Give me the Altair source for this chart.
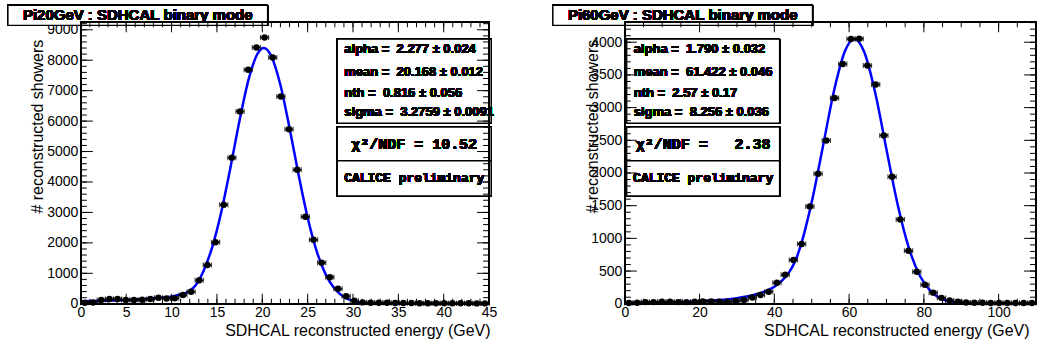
import altair as alt
import pandas as pd

# ---------------- data ----------------
left_centers = [0.45, 1.35, 2.25, 3.15, 4.05, 4.95, 5.85, 6.75, 7.65, 8.55, 9.45, 10.35, 11.25, 12.15,
                13.05, 13.95, 14.85, 15.75, 16.65, 17.55, 18.45, 19.35, 20.25, 21.15, 22.05, 22.95,
                23.85, 24.75, 25.65, 26.55, 27.45, 28.35, 29.25, 30.15, 31.05, 31.95, 32.85, 33.75,
                34.65, 35.55, 36.45, 37.35, 38.25, 39.15, 40.05, 40.95, 41.85, 42.75, 43.65, 44.55]
left_counts = [30, 40, 120, 155, 155, 120, 120, 130, 155, 200, 175, 180, 285, 395,
               770, 1270, 2020, 3250, 4800, 6316, 7690, 8420, 8750, 8090, 6810, 5730,
               4400, 2860, 2100, 1350, 870, 490, 250, 100, 45, 35, 30, 30,
               25, 25, 22, 20, 20, 18, 18, 15, 15, 15, 12, 12]
left_half_bin = 0.45
left_curve_x = [0, 2, 5, 8, 10, 11, 12, 12.7, 13, 13.5, 14.5, 15.5, 16.5, 17.5, 18.5, 19.5, 20.17,
                21, 22, 23, 24, 25, 26, 27, 28, 29, 30, 31, 32, 34, 36, 45]
left_curve_y = [84, 95, 121, 169, 237, 302, 428, 624, 766, 1060, 1880, 3040, 4486, 6025, 7377, 8226, 8400,
                8131, 7185, 5782, 4240, 2833, 1724, 956, 482, 222, 93, 35, 12, 2, 0, 0]

right_centers = [1.1, 3.3, 5.5, 7.7, 9.9, 12.1, 14.3, 16.5, 18.7, 20.9, 23.1, 25.3, 27.5, 29.7,
                 31.9, 34.1, 36.3, 38.5, 40.7, 42.9, 45.1, 47.3, 49.5, 51.7, 53.9, 56.1, 58.3,
                 60.5, 62.7, 64.9, 67.1, 69.3, 71.5, 73.7, 75.9, 78.1, 80.3, 82.5, 84.7, 86.9,
                 89.1, 91.3, 93.5, 95.7, 97.9, 100.1, 102.3, 104.5, 106.7, 108.9]
right_counts = [10, 15, 25, 25, 30, 30, 25, 25, 30, 35, 35, 30, 30, 41,
                57, 97, 133, 184, 322, 444, 670, 915, 1487, 1988, 2498, 3146, 3668,
                4050, 4055, 3643, 3352, 2575, 1941, 1290, 810, 490, 290, 170, 90, 50,
                30, 20, 15, 15, 12, 12, 10, 10, 10, 10]
right_half_bin = 1.1
right_curve_x = [0, 10, 20, 25, 30, 35, 38, 40, 42, 44, 45, 46, 46.64, 48, 50, 53, 56, 59, 61.42,
                 64, 67, 70, 73, 76, 79, 82, 85, 88, 92, 100, 110]
right_curve_y = [13.5, 22, 40, 56, 86, 141, 200, 260, 349, 487, 584, 712, 816, 1081, 1555, 2407, 3265,
                 3880, 4050, 3857, 3224, 2360, 1514, 851, 420, 181, 68, 23, 4, 0, 0]

left_x_major = [0, 5, 10, 15, 20, 25, 30, 35, 40, 45]
left_x_minor = list(range(0, 46))
left_y_major = [0, 1000, 2000, 3000, 4000, 5000, 6000, 7000, 8000, 9000]
left_y_minor = list(range(0, 9201, 200))
right_x_major = [0, 20, 40, 60, 80, 100]
right_x_minor = list(range(0, 111, 5))
right_y_major = [0, 500, 1000, 1500, 2000, 2500, 3000, 3500, 4000]
right_y_minor = list(range(0, 4301, 100))

NB = "\u00a0"
left_params = ["alpha =  2.277 \u00b1 0.024", "mean =  20.168 \u00b1 0.012",
               "nth =  0.816 \u00b1 0.056", "sigma =  3.2759 \u00b1 0.0091"]
right_params = ["alpha =  1.790 \u00b1 0.032", "mean =  61.422 \u00b1 0.046",
                "nth =  2.57 \u00b1 0.17", "sigma =  8.256 \u00b1 0.036"]
left_chi2 = "\u03c7\u00b2/NDF = 10.52"
right_chi2 = "\u03c7\u00b2/NDF =   2.38"
prelim = "CALICE preliminary"
titles = ["Pi20GeV : SDHCAL binary mode", "Pi60GeV : SDHCAL binary mode"]
x_title = "SDHCAL reconstructed energy (GeV)"
y_title = "# reconstructed showers"

SANS = "Liberation Sans"
MONO = "Liberation Mono"
H = 282


def nb(s):
    return s.replace(" ", NB)


def panel(centers, counts, half, cx, cy, xdom, ydom, W, xmaj, xmin, ymaj, ymin,
          params, chi2, title, box_x0, box_x1, tbox_x0, tbox_x1, ytitle_x, xtitle_x):
    xs = alt.Scale(domain=xdom, nice=False, zero=False)
    ys = alt.Scale(domain=ydom, nice=False, zero=False)
    pts = pd.DataFrame({"x": centers, "n": counts})
    pts["lo"] = pts["x"] - half
    pts["hi"] = pts["x"] + half
    curve = pd.DataFrame({"x": cx, "y": cy})

    xaxis = alt.Axis(values=xmaj, format="d", ticks=False, tickSize=0, domain=False, grid=False,
                     labelFont=SANS, labelFontSize=14, labelColor="black", labelPadding=2,
                     labelFlush=False, title=x_title, titleFont=SANS, titleFontSize=16,
                     titleFontWeight="normal", titleColor="black", titleX=xtitle_x, titleY=27,
                     titleAlign="right", titleBaseline="middle")
    yaxis = alt.Axis(values=ymaj, format="d", ticks=False, tickSize=0, domain=False, grid=False,
                     labelFont=SANS, labelFontSize=14, labelColor="black", labelPadding=3,
                     labelFlush=False, title=y_title, titleFont=SANS, titleFontSize=16,
                     titleFontWeight="normal", titleColor="black", titleX=ytitle_x, titleY=17,
                     titleAngle=-90, titleAlign="right", titleBaseline="middle")

    def X(f):
        return alt.X(f, scale=xs, axis=xaxis)

    def Y(f):
        return alt.Y(f, scale=ys, axis=yaxis)

    line = alt.Chart(curve).mark_line(color="#0000ff", strokeWidth=2.5, interpolate="monotone").encode(
        x=X("x:Q"), y=Y("y:Q"))
    bars = alt.Chart(pts).mark_rule(color="black", strokeWidth=1.5).encode(
        x=X("lo:Q"), x2="hi:Q", y=Y("n:Q"))
    cap_lo = alt.Chart(pts).mark_tick(orient="vertical", size=5, thickness=1.2, color="black").encode(
        x=X("lo:Q"), y=Y("n:Q"))
    cap_hi = alt.Chart(pts).mark_tick(orient="vertical", size=5, thickness=1.2, color="black").encode(
        x=X("hi:Q"), y=Y("n:Q"))
    dots = alt.Chart(pts).mark_circle(size=42, color="black", opacity=1).encode(
        x=X("x:Q"), y=Y("n:Q"))

    layers = [line, bars, cap_lo, cap_hi, dots]

    def box(x0, x1, y0, y1, sw=1.2):
        return alt.Chart(pts).mark_rect(fill="white", stroke="black", strokeWidth=sw).encode(
            x=alt.value(x0), x2=alt.value(x1), y=alt.value(y0), y2=alt.value(y1))

    layers += [box(box_x0, box_x1, 17, 101), box(box_x0, box_x1, 105, 139), box(box_x0, box_x1, 139, 174)]
    for p, yy in zip(params, [27, 50, 71, 90]):
        layers.append(alt.Chart(pts).mark_text(text=nb(p), font=SANS, fontSize=13, fontWeight="bold",
                                               align="left", baseline="middle", color="black").encode(
            x=alt.value(box_x0 + 7), y=alt.value(yy)))
    cxm = (box_x0 + box_x1) / 2
    layers.append(alt.Chart(pts).mark_text(text=nb(chi2), font=MONO, fontSize=15, fontWeight="bold",
                                           align="center", baseline="middle", color="black").encode(
        x=alt.value(cxm), y=alt.value(122)))
    layers.append(alt.Chart(pts).mark_text(text=nb(prelim), font=MONO, fontSize=13, fontWeight="bold",
                                           align="center", baseline="middle", color="black").encode(
        x=alt.value(cxm), y=alt.value(156)))

    # title box
    layers.append(box(tbox_x0, tbox_x1, -17, 3))
    layers.append(alt.Chart(pts).mark_text(text=nb(title), font=SANS, fontSize=15, fontWeight="bold",
                                           align="center", baseline="middle", color="black").encode(
        x=alt.value((tbox_x0 + tbox_x1) / 2), y=alt.value(-7)))

    # frame
    layers.append(alt.Chart(pts).mark_rect(fillOpacity=0, stroke="black", strokeWidth=1.5).encode(
        x=alt.value(0), x2=alt.value(W), y=alt.value(0), y2=alt.value(H)))

    # inward ticks
    def xticks(vals, length):
        d = pd.DataFrame({"t": vals})
        b = alt.Chart(d).mark_rule(color="black", strokeWidth=1).encode(
            x=X("t:Q"), y=alt.value(H), y2=alt.value(H - length))
        t = alt.Chart(d).mark_rule(color="black", strokeWidth=1).encode(
            x=X("t:Q"), y=alt.value(0), y2=alt.value(length))
        return [b, t]

    def yticks(vals, length):
        d = pd.DataFrame({"t": vals})
        l = alt.Chart(d).mark_rule(color="black", strokeWidth=1).encode(
            y=Y("t:Q"), x=alt.value(0), x2=alt.value(length))
        r = alt.Chart(d).mark_rule(color="black", strokeWidth=1).encode(
            y=Y("t:Q"), x=alt.value(W), x2=alt.value(W - length))
        return [l, r]

    layers += xticks(xmaj, 10) + xticks(xmin, 5) + yticks(ymaj, 12) + yticks(ymin, 6)

    return alt.layer(*layers).properties(width=W, height=H)


left = panel(left_centers, left_counts, left_half_bin, left_curve_x, left_curve_y, [0, 45], [0, 9246], 409,
             left_x_major, left_x_minor, left_y_major, left_y_minor, left_params, left_chi2, titles[0],
             257, 411, -73, 187, -43, 410)
right = panel(right_centers, right_counts, right_half_bin, right_curve_x, right_curve_y, [0, 110], [0, 4305], 412,
              right_x_major, right_x_minor, right_y_major, right_y_minor, right_params, right_chi2, titles[1],
              2, 155, -72, 188, -32, 405)

chart = alt.hconcat(left, right, spacing=136, bounds="flush").properties(
    padding={"left": 7, "top": 4, "right": 0, "bottom": 10}, background="white"
).configure_view(strokeWidth=0)

chart.save("out.html", embed_options={"renderer": "svg", "actions": False})
